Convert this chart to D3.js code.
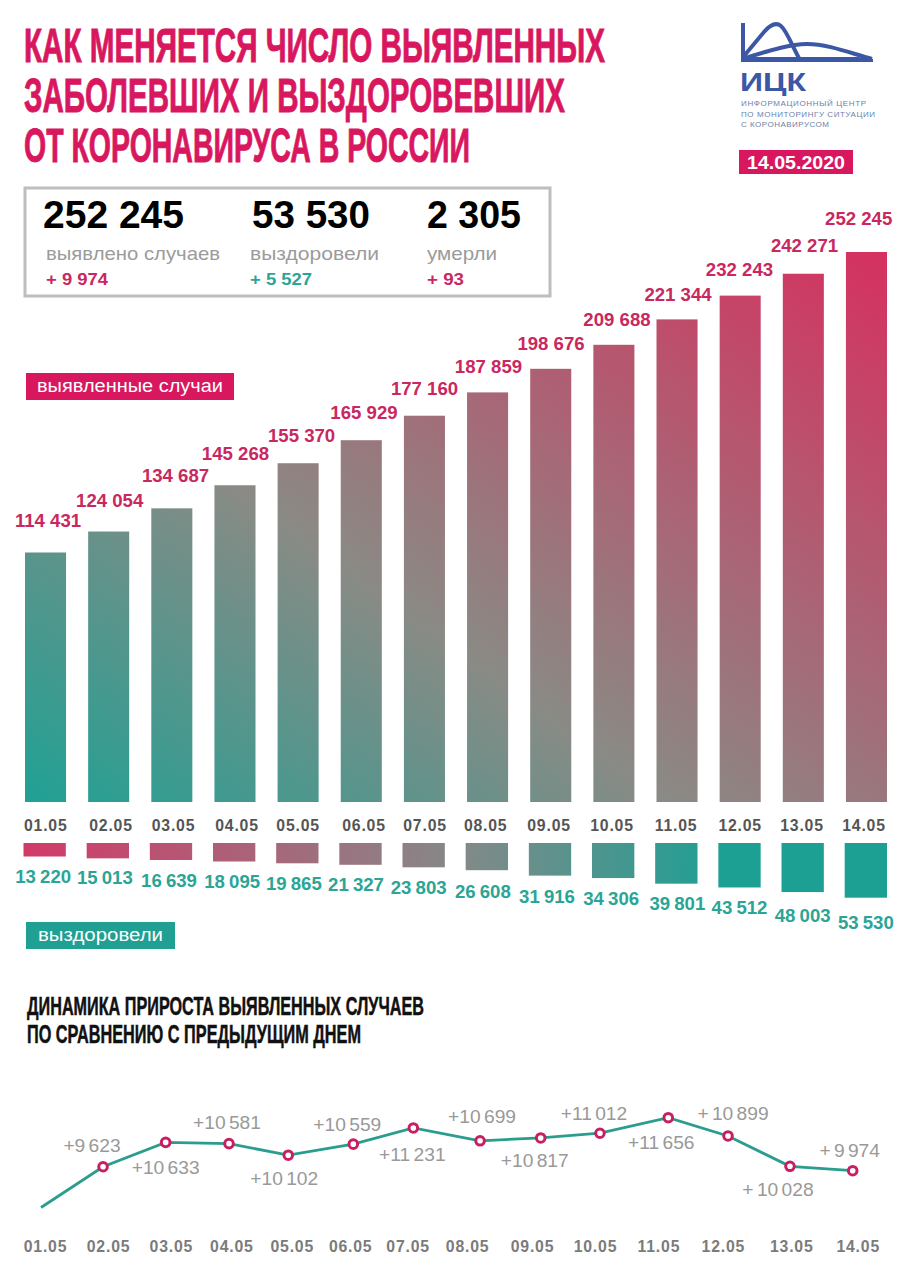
<!DOCTYPE html>
<html lang="ru">
<head>
<meta charset="utf-8">
<title>Коронавирус в России</title>
<script src="https://cdn.jsdelivr.net/npm/d3@7"></script>
<style>
  html, body { margin: 0; padding: 0; background: #fff; }
  svg { display: block; }
  text { font-family: "Liberation Sans", Arial, sans-serif; }
  .narrow { font-family: "Liberation Sans Narrow", "Liberation Sans", sans-serif; font-weight: 700; }
</style>
</head>
<body>
<div id="chart"></div>
<script>
const dates = ["01.05", "02.05", "03.05", "04.05", "05.05", "06.05", "07.05", "08.05", "09.05", "10.05", "11.05", "12.05", "13.05", "14.05"]
const confirmed = [114431, 124054, 134687, 145268, 155370, 165929, 177160, 187859, 198676, 209688, 221344, 232243, 242271, 252245]
const recovered = [13220, 15013, 16639, 18095, 19865, 21327, 23803, 26608, 31916, 34306, 39801, 43512, 48003, 53530]
// the source draws its last two points lower than their labels say, so the plotted
// heights are read off the line and the printed numbers are kept apart
const growthPlotted = [7933, 9623, 10633, 10581, 10102, 10559, 11231, 10699, 10817, 11012, 11656, 10899, 9641, 9459]
const growthLabels = [null, "+9 623", "+10 633", "+10 581", "+10 102", "+10 559", "+11 231", "+10 699", "+10 817", "+11 012", "+11 656", "+ 10 899", "+ 10 028", "+ 9 974"]
const titleLines = ["КАК МЕНЯЕТСЯ ЧИСЛО ВЫЯВЛЕННЫХ", "ЗАБОЛЕВШИХ И ВЫЗДОРОВЕВШИХ", "ОТ КОРОНАВИРУСА В РОССИИ"]
const subtitleLines = ["ДИНАМИКА ПРИРОСТА ВЫЯВЛЕННЫХ СЛУЧАЕВ", "ПО СРАВНЕНИЮ С ПРЕДЫДУЩИМ ДНЕМ"]
const totals = ["252 245", "53 530", "2 305"]
const totalNames = ["выявлено случаев", "выздоровели", "умерли"]
const totalDeltas = ["+ 9 974", "+ 5 527", "+ 93"]
const logoLines = ["ИНФОРМАЦИОННЫЙ ЦЕНТР", "ПО МОНИТОРИНГУ СИТУАЦИИ", "С КОРОНАВИРУСОМ"]

// hand placed nudges of the original layout
const confirmedDx = [2.5, 1, 3.7, .5, 3.5, 2.7, .1, .9, .3, 3.1, 1, -.7, 1.2, -7.8]
const confirmedDy = [-31.8, -31.5, -32.6, -32, -28.2, -27.5, -27.7, -26.4, -25.8, -25.8, -24.9, -25.9, -28.7, -33.5]
const recoveredDx = [-1.5, -3, -2, -2, -3.5, -4.5, -5, -4, -3, -2, 1, 0, 0, 0]
const recoveredDy = [19.5, 19.5, 20, 19.5, 20, 20, 20, 21, 20.5, 20, 19.5, 20, 23, 24.5]
const growthPointDx = [0, -.4, -.2, .7, -2.5, .1, -2.3, 2, .2, -3, 2.9, .2, -.3, 0]
const growthDx = [0, -11, 0, -2, -4, -6, -1, 2, -6, -6, -7, 5, -12, -3]
const growthDy = [0, -21, 25, -21, 23, -20, 26, -24, 22, -20, 25, -23, 23, -20]
const growthTickDx = [4, 4.6, 5, 3, 1, -3, -8, -11, -8.5, -8, -7, -5, 1, 5]
const barTickDx = [.2, 2.3, 1.7, 2, 0, 2.7, .6, -1.9, -1.7, -1.9, -1, 0, -1.3, -2.5]

const width = 908, height = 1280
const crimson = "#d8175f", labelRed = "#c9285f", teal = "#1fa093", tealText = "#2aa596", logoBlue = "#3b57a5"

const svg = d3.select("#chart").append("svg").attr("width", width).attr("height", height)
const defs = svg.append("defs")

const addGradient = (id, x1, y1, x2, y2, stops) => {
  const g = defs.append("linearGradient").attr("id", id).attr("gradientUnits", "userSpaceOnUse")
    .attr("x1", x1).attr("y1", y1).attr("x2", x2).attr("y2", y2)
  stops.forEach(s => g.append("stop").attr("offset", s[0]).attr("stop-color", s[1]))
}
addGradient("upGrad", 24, 802, 577.6, 30, [[0, "#1fa194"], [.4, "#8a8a85"], [1, "#d6305f"]])
addGradient("downGrad", 24, 843, 720, 898, [[0, "#d23a68"], [.62, "#858988"], [1, "#1ca094"]])

// text squeezed to a known width, the installed fonts are not the original ones
const fitted = (parent, str, x, y, w, size, fill, cls) => parent.append("text")
  .attr("class", cls)
  .attr("x", x).attr("y", y)
  .attr("textLength", w).attr("lengthAdjust", "spacingAndGlyphs")
  .attr("font-size", size).attr("fill", fill)
  .text(str)

// condensed headline look: a narrow font stretched upwards
const headline = (str, x, y, w, size, sy, fill, weight) => fitted(svg, str, 0, 0, w, size, fill, "narrow")
  .attr("transform", "translate(" + x + "," + y + ") scale(1," + sy + ")")
  .attr("stroke", fill)
  .attr("stroke-width", weight)

// header
const titleWidths = [581, 541, 446]
titleLines.forEach((line, i) => headline(line, 24, 62 + i * 50, titleWidths[i], 36, 1.32, crimson, .7))

// logo
const logo = svg.append("g").attr("fill", "none").attr("stroke", logoBlue)
logo.append("path").attr("stroke-width", 4).attr("d", "M743 23V60")
logo.append("path").attr("stroke-width", 4).attr("d", "M744 56L764 32C770 25 776 22 781 26C787 31 793 48 800 60")
logo.append("path").attr("stroke-width", 4).attr("d", "M745 58C768 51 790 44 807 44C828 44 850 53 872 59")
logo.append("path").attr("stroke", "none").attr("fill", logoBlue).attr("d", "M741 57H858L873 59V62H741Z")
svg.append("text").attr("x", 740).attr("y", 91).attr("font-size", 26.5).attr("font-weight", 700)
  .attr("fill", logoBlue).attr("textLength", 66).attr("lengthAdjust", "spacingAndGlyphs").text("ИЦК")
const logoWidths = [125, 134, 88]
logoLines.forEach((line, i) => fitted(svg, line, 741, 106 + i * 10.5, logoWidths[i], 8, "#6d7fa8")
  .attr("lengthAdjust", "spacing"))

svg.append("rect").attr("x", 739).attr("y", 150).attr("width", 114).attr("height", 24).attr("fill", crimson)
fitted(svg, "14.05.2020", 747, 169, 98, 17.5, "#fff").attr("font-weight", 700)

// totals box
svg.append("rect").attr("x", 25).attr("y", 188).attr("width", 525).attr("height", 108)
  .attr("fill", "none").attr("stroke", "#bcbfbf").attr("stroke-width", 3)
const totalX = [43, 252, 427]
const totalWidths = [141, 118, 94]
const nameX = [46, 250, 427]
const nameWidths = [174, 129, 70]
const deltaWidths = [62, 62, 37]
const deltaColors = [labelRed, tealText, labelRed]
totals.forEach((t, i) => {
  fitted(svg, t, totalX[i], 228, totalWidths[i], 38, "#000").attr("font-weight", 700)
  fitted(svg, totalNames[i], nameX[i], 260, nameWidths[i], 19, "#9b9b9b")
  fitted(svg, totalDeltas[i], nameX[i], 285, deltaWidths[i], 17, deltaColors[i]).attr("font-weight", 700)
})

// upper bars
const xUp = d3.scaleBand().domain(dates).range([25, 887]).paddingInner(.35)
const yUp = d3.scaleLinear().domain([0, d3.max(confirmed)]).range([802, 252])

svg.append("g").selectAll("rect")
  .data(confirmed)
  .join("rect")
  .attr("x", (d, i) => xUp(dates[i]))
  .attr("y", d => yUp(d))
  .attr("width", xUp.bandwidth())
  .attr("height", d => yUp(0) - yUp(d))
  .attr("fill", "url(#upGrad)")

const spaced = d => d3.format(",")(d).replace(",", " ")

svg.append("g").selectAll("text")
  .data(confirmed)
  .join("text")
  .attr("x", (d, i) => xUp(dates[i]) + xUp.bandwidth() / 2 + confirmedDx[i])
  .attr("y", (d, i) => yUp(d) + confirmedDy[i] + 6.6)
  .attr("text-anchor", "middle")
  .attr("font-size", 18.6).attr("font-weight", 700)
  .attr("fill", labelRed)
  .text(spaced)

svg.append("rect").attr("x", 26).attr("y", 373).attr("width", 208).attr("height", 27).attr("fill", crimson)
fitted(svg, "выявленные случаи", 37, 392, 186, 18, "#fff")

// date axis between the two bar groups
const barAxis = svg.append("g").attr("transform", "translate(0,820)")
  .call(d3.axisBottom(xUp).tickSize(0).tickPadding(0))
barAxis.select(".domain").remove()
barAxis.selectAll("text")
  .attr("dx", (d, i) => barTickDx[i])
  .attr("font-family", "Liberation Sans").attr("font-size", 15.8).attr("font-weight", 700)
  .attr("letter-spacing", .8).attr("fill", "#555")

// lower bars
const xDown = d3.scaleBand().domain(dates).range([23.5, 887]).paddingInner(.33)
const yDown = d3.scaleLinear().domain([0, d3.max(recovered)]).range([843, 897.7])

svg.append("g").selectAll("rect")
  .data(recovered)
  .join("rect")
  .attr("x", (d, i) => xDown(dates[i]))
  .attr("y", yDown(0))
  .attr("width", xDown.bandwidth())
  .attr("height", d => yDown(d) - yDown(0))
  .attr("fill", "url(#downGrad)")

svg.append("g").selectAll("text")
  .data(recovered)
  .join("text")
  .attr("x", (d, i) => xDown(dates[i]) + xDown.bandwidth() / 2 + recoveredDx[i])
  .attr("y", (d, i) => yDown(d) + recoveredDy[i] + 6.6)
  .attr("text-anchor", "middle")
  .attr("font-size", 18.6).attr("font-weight", 700).attr("word-spacing", -1)
  .attr("fill", tealText)
  .text(spaced)

svg.append("rect").attr("x", 26).attr("y", 922).attr("width", 149).attr("height", 27).attr("fill", teal)
fitted(svg, "выздоровели", 38, 941, 125, 18, "#fff")

// growth line
const subtitleWidths = [397, 334]
subtitleLines.forEach((line, i) => headline(line, 27, 1015 + i * 28, subtitleWidths[i], 20, 1.3, "#111", .4))

const xLine = d3.scalePoint().domain(dates).range([41, 852.7])
const yLine = d3.scaleLinear().domain([7933, 11656]).range([1207.5, 1117.7])
const pointX = i => xLine(dates[i]) + growthPointDx[i]

const line = d3.line()
  .x((d, i) => pointX(i))
  .y(d => yLine(d))

svg.append("path")
  .datum(growthPlotted)
  .attr("d", line)
  .attr("fill", "none")
  .attr("stroke", "#2a9d8f")
  .attr("stroke-width", 2.8)

const marked = growthPlotted.map((d, i) => ({ d, i })).filter(p => growthLabels[p.i])

svg.append("g").selectAll("circle")
  .data(marked)
  .join("circle")
  .attr("cx", p => pointX(p.i))
  .attr("cy", p => yLine(p.d))
  .attr("r", 4.3)
  .attr("fill", "#fff")
  .attr("stroke", "#c81e62")
  .attr("stroke-width", 3)

svg.append("g").selectAll("text")
  .data(marked)
  .join("text")
  .attr("x", p => pointX(p.i) + growthDx[p.i])
  .attr("y", p => yLine(p.d) + growthDy[p.i] + 6.6)
  .attr("text-anchor", "middle")
  .attr("font-size", 19.2).attr("word-spacing", -2)
  .attr("fill", "#999")
  .text(p => growthLabels[p.i])

const lineAxis = svg.append("g").attr("transform", "translate(0,1241)")
  .call(d3.axisBottom(xLine).tickSize(0).tickPadding(0))
lineAxis.select(".domain").remove()
lineAxis.selectAll("text")
  .attr("dx", (d, i) => growthTickDx[i])
  .attr("font-family", "Liberation Sans").attr("font-size", 15.8).attr("font-weight", 700)
  .attr("letter-spacing", .8).attr("fill", "#7b7b7b")
</script>
</body>
</html>
